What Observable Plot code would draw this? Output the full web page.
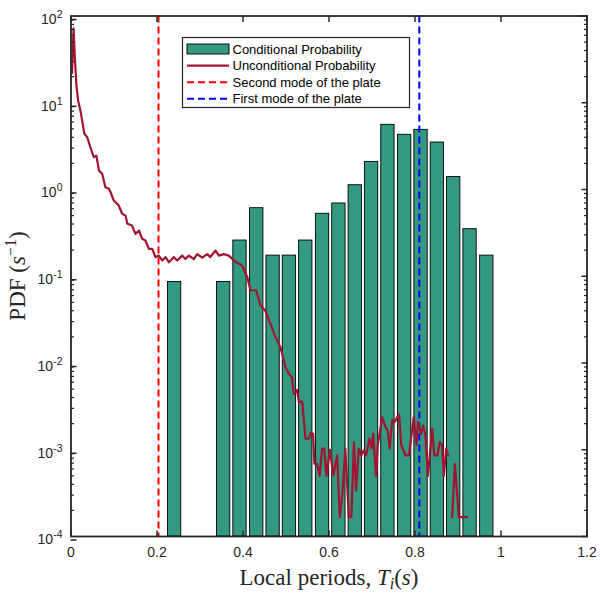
<!DOCTYPE html>
<html><head><meta charset="utf-8">
<script src="https://cdn.jsdelivr.net/npm/d3@7"></script>
<script src="https://cdn.jsdelivr.net/npm/@observablehq/plot@0.6"></script>
<style>body{margin:0;background:#fff} #chart{width:600px;height:600px}</style>
</head><body><div id="chart"></div>
<script>
// Conditional probability histogram (bin centres and PDF values)
const binCenters = [0.241, 0.355, 0.393, 0.432, 0.470, 0.508, 0.546, 0.585, 0.623, 0.661, 0.699, 0.737, 0.776, 0.814, 0.852, 0.890, 0.928, 0.967];
const condValues = [0.086, 0.086, 0.258, 0.609, 0.173, 0.173, 0.258, 0.525, 0.690, 1.12, 2.08, 5.57, 4.27, 4.87, 3.48, 1.39, 0.349, 0.173];
// Unconditional probability curve [period, pdf]; null = gap
const unconditional = [
[0.0025,22],[0.006,72],[0.009,33],[0.0125,16],[0.0167,10.5],[0.022,8.1],[0.027,5.8],[0.031,4.4],[0.0377,4.0],[0.045,3.07],
[0.053,2.36],[0.059,2.46],[0.065,1.66],[0.0725,1.52],[0.080,1.06],[0.088,1.02],[0.092,0.93],[0.0996,0.746],[0.111,0.654],[0.119,0.525],
[0.127,0.50],[0.131,0.403],[0.142,0.385],[0.150,0.308],[0.158,0.337],[0.1656,0.27],[0.173,0.258],[0.181,0.207],[0.189,0.207],[0.1965,0.166],
[0.204,0.173],[0.212,0.152],[0.220,0.166],[0.2275,0.145],[0.239,0.166],[0.247,0.152],[0.2586,0.173],[0.266,0.158],[0.274,0.173],[0.2856,0.158],
[0.2935,0.18],[0.305,0.164],[0.317,0.18],[0.324,0.166],[0.336,0.198],[0.344,0.173],[0.355,0.18],[0.367,0.173],[0.379,0.152],[0.390,0.14],
[0.398,0.133],[0.410,0.0975],[0.4174,0.0685],[0.431,0.0685],[0.4407,0.046],[0.452,0.040],[0.464,0.0283],[0.4756,0.0198],[0.487,0.0152],[0.499,0.00895],
[0.5065,0.0075],[0.514,0.00686],[0.518,0.0044],[0.526,0.0049],[0.530,0.0035],[0.5377,0.0036],[0.5453,0.00134],[0.553,0.00134],[0.557,0.00157],[0.563,0.00153],
[0.566,0.00069],[0.5726,0.00069],[0.578,0.0005],[0.584,0.00103],[0.589,0.00103],[0.594,0.0005],[0.602,0.001],[0.610,0.00051],[0.619,0.00086],[0.625,0.000167],
[0.631,0.00031],[0.638,0.00103],[0.646,0.000167],[0.652,0.000167],[0.658,0.00122],[0.663,0.00034],[0.669,0.00103],[0.675,0.00086],[0.681,0.00098],[0.686,0.00086],
[0.694,0.00134],[0.6988,0.00103],[0.703,0.00153],[0.709,0.0005],[0.7135,0.00114],[0.7237,0.00237],[0.7314,0.00182],[0.7367,0.00167],[0.741,0.00103],[0.747,0.0022],
[0.753,0.0021],[0.7586,0.00237],[0.763,0.00255],[0.768,0.00114],[0.778,0.00086],[0.786,0.00086],[0.797,0.00237],[0.8035,0.00114],[0.807,0.0021],[0.8144,0.00153],
[0.819,0.0019],[0.824,0.00153],[0.830,0.0005],[0.840,0.00175],[0.845,0.00086],[0.852,0.00086],[0.8577,0.00122],[0.863,0.00114],[0.867,0.0005],[0.8725,0.00103],
[0.877,0.00086],[0.882,null],[0.8865,0.000167],[0.8926,0.00069],[0.902,0.000167],[0.921,0.000167]
];
const secondMode = 0.2035;
const firstMode = 0.81;
const xTicks = [0, 0.2, 0.4, 0.6, 0.8, 1, 1.2];
const xTickLabels = ["0", "0.2", "0.4", "0.6", "0.8", "1", "1.2"];
const yTicks = [1e-4, 1e-3, 1e-2, 1e-1, 1, 10, 100];
const yTickExponents = ["-4", "-3", "-2", "-1", "0", "1", "2"];
const legendLabels = ["Conditional Probability", "Unconditional Probability", "Second mode of the plate", "First mode of the plate"];

const green = "#339980", wine = "#A2142F", ink = "#262626";
const barHalf = 0.0155;
const yDomain = [1e-4, 1e2];
const yMinor = d3.scaleLog().domain(yDomain).ticks().filter(v => !yTicks.some(t => Math.abs(t - v) / t < 1e-9));

const bars = binCenters.map((c, i) => ({x1: c - barHalf, x2: c + barHalf, y: condValues[i]}));
const line = unconditional.map(([x, y]) => ({x, y}));

const plot = Plot.plot({
  width: 600, height: 600,
  marginLeft: 70.5, marginRight: 13.5, marginTop: 15.5, marginBottom: 64,
  style: {fontFamily: "'Liberation Sans', Arial, sans-serif", fontSize: "14px", color: ink, background: "#fff", overflow: "visible"},
  x: {domain: [0, 1.2]},
  y: {type: "log", domain: yDomain},
  marks: [
    Plot.rectY(bars, {x1: "x1", x2: "x2", y1: 1e-4, y2: "y", fill: green, stroke: "#000", strokeWidth: 0.9}),
    Plot.ruleX([secondMode], {stroke: "#ff0000", strokeWidth: 2, strokeDasharray: "7,4"}),
    Plot.ruleX([firstMode], {stroke: "#0000ff", strokeWidth: 2, strokeDasharray: "7,4"}),
    Plot.line(line, {x: "x", y: "y", stroke: wine, strokeWidth: 2.2}),
    Plot.frame({stroke: ink, strokeWidth: 1.8}),
    Plot.axisX(xTicks, {anchor: "bottom", tickSize: -5.5, tickPadding: 16.5, stroke: ink, strokeWidth: 1.5, fill: ink, fontSize: 14,
      tickFormat: d => xTickLabels[xTicks.indexOf(d)], label: null}),
    Plot.axisX(xTicks, {anchor: "top", tickSize: -5.5, stroke: ink, strokeWidth: 1.5, fill: "none", label: null}),
    Plot.axisY(yTicks, {anchor: "left", tickSize: -6, tickPadding: 14.5, stroke: ink, strokeWidth: 1.5, fill: ink, fontSize: 14, dy: 3.5,
      tickFormat: d => "10^" + yTickExponents[yTicks.indexOf(d)], label: null}),
    Plot.axisY(yMinor, {anchor: "left", tickSize: -3.5, stroke: ink, strokeWidth: 1.2, fill: "none", label: null}),
    Plot.axisY(yTicks, {anchor: "right", tickSize: -6, stroke: ink, strokeWidth: 1.5, fill: "none", label: null}),
    Plot.axisY(yMinor, {anchor: "right", tickSize: -3.5, stroke: ink, strokeWidth: 1.2, fill: "none", label: null})
  ]
});
document.getElementById("chart").appendChild(plot);

const svg = d3.select(plot);
// superscript exponents on y tick labels
svg.selectAll("text").each(function() {
  const t = this.textContent;
  if (t.startsWith("10^")) {
    const e = t.slice(3);
    const sel = d3.select(this);
    sel.text("");
    sel.append("tspan").text("10");
    sel.append("tspan").attr("dy", -6).attr("font-size", 10.5).text(e);
  }
});

// axis titles (LaTeX-like serif)
const serif = "'Liberation Serif', 'DejaVu Serif', serif";
const xl = svg.append("text").attr("x", 329).attr("y", 585).attr("text-anchor", "middle")
  .attr("font-family", serif).attr("font-size", 23).attr("fill", ink);
xl.append("tspan").text("Local periods, ");
xl.append("tspan").attr("font-style", "italic").text("T");
xl.append("tspan").attr("font-style", "italic").attr("font-size", 16).attr("dy", 4).text("i");
xl.append("tspan").attr("dy", -4).text("(");
xl.append("tspan").attr("font-style", "italic").text("s");
xl.append("tspan").text(")");

const yl = svg.append("text").attr("transform", "translate(25,276) rotate(-90)").attr("text-anchor", "middle")
  .attr("font-family", serif).attr("font-size", 23).attr("fill", ink);
yl.append("tspan").text("PDF (");
yl.append("tspan").attr("font-style", "italic").text("s");
yl.append("tspan").attr("font-size", 16).attr("dy", -9).text("\u22121");
yl.append("tspan").attr("dy", 9).text(")");

// legend
const lg = svg.append("g").attr("font-family", "'Liberation Sans', Arial, sans-serif").attr("font-size", 13).attr("text-anchor", "start");
lg.append("rect").attr("x", 182.5).attr("y", 37.5).attr("width", 227).attr("height", 70)
  .attr("fill", "#fff").attr("stroke", ink).attr("stroke-width", 1.2);
const rows = [49, 65.6, 82.2, 98.8];
lg.append("rect").attr("x", 187).attr("y", rows[0] - 5).attr("width", 42).attr("height", 10)
  .attr("fill", green).attr("stroke", "#000").attr("stroke-width", 0.9);
lg.append("line").attr("x1", 187).attr("x2", 229).attr("y1", rows[1]).attr("y2", rows[1]).attr("stroke", wine).attr("stroke-width", 2.2);
lg.append("line").attr("x1", 187).attr("x2", 229).attr("y1", rows[2]).attr("y2", rows[2]).attr("stroke", "#ff0000").attr("stroke-width", 2).attr("stroke-dasharray", "7,4");
lg.append("line").attr("x1", 187).attr("x2", 229).attr("y1", rows[3]).attr("y2", rows[3]).attr("stroke", "#0000ff").attr("stroke-width", 2).attr("stroke-dasharray", "7,4");
legendLabels.forEach((s, i) => {
  lg.append("text").attr("x", 232.5).attr("y", rows[i]).attr("dy", "0.35em").attr("fill", "#000").text(s);
});
</script>
</body></html>
